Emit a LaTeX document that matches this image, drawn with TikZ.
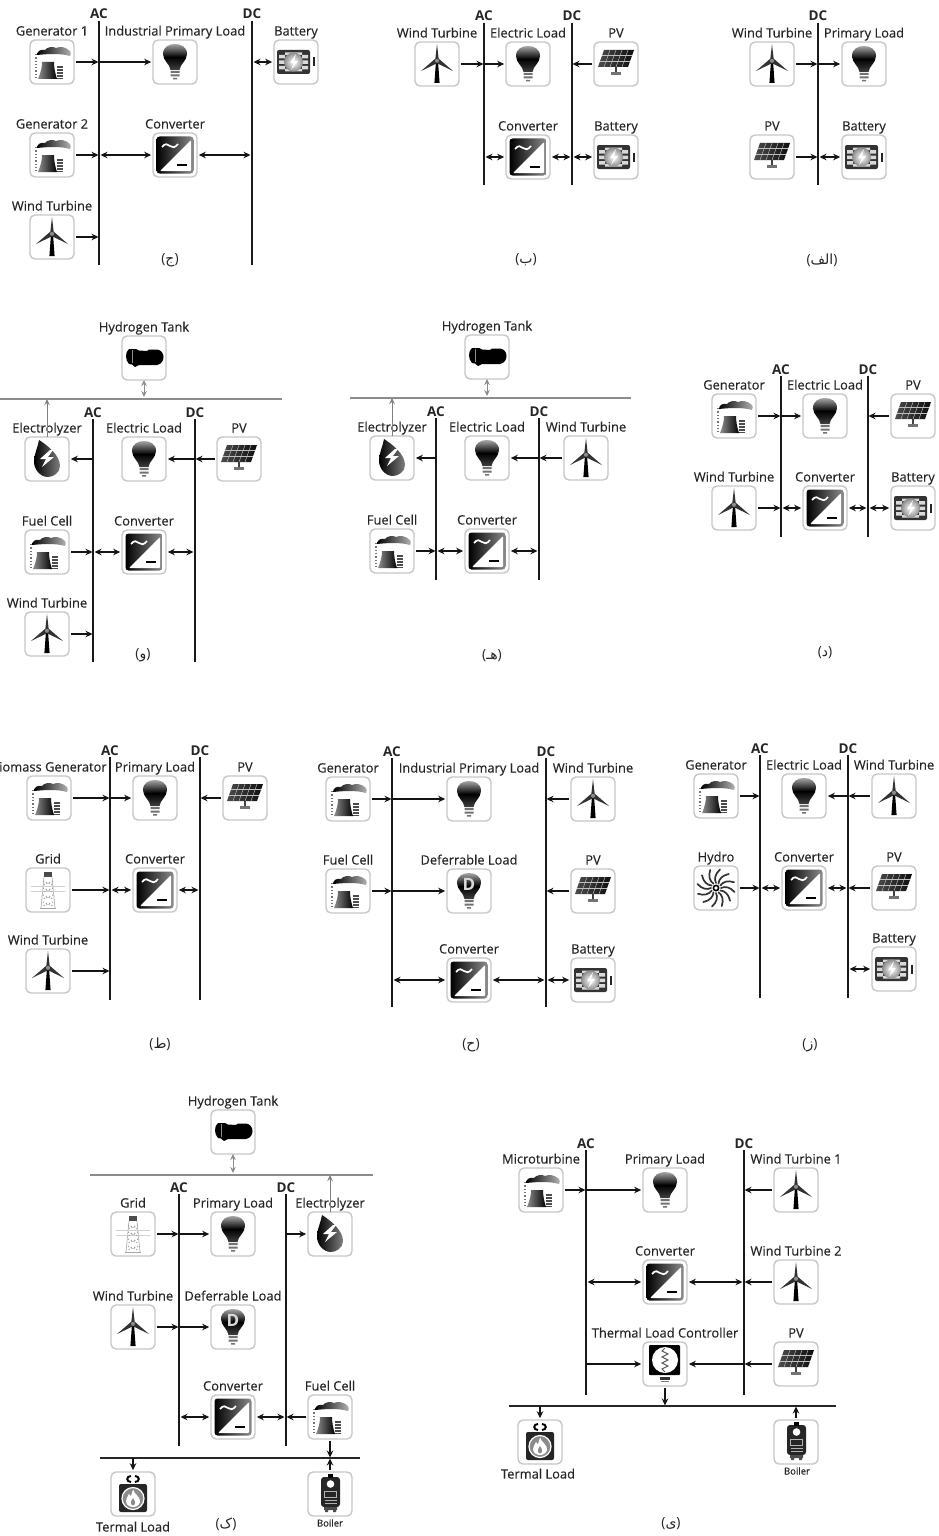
\documentclass[tikz,border=0pt]{standalone}
\usepackage{fontspec}
\setmainfont{Open Sans}
\newfontfamily\lblf[FakeBold=0.25]{Open Sans}
\newfontfamily\arabicfont[Script=Arabic]{DejaVu Sans}
\TeXXeTstate=1
\usetikzlibrary{arrows.meta}
\definecolor{ink}{HTML}{262626}
\newcommand{\bulbpath}{(-4.5,8) .. controls (-5,2) and (-12,-1) .. (-12,-8) .. controls (-12,-15) and (-6,-18) .. (0,-18) .. controls (6,-18) and (12,-15) .. (12,-8) .. controls (12,-1) and (5,2) .. (4.5,8) -- cycle}
\newcommand{\bulbbase}{\fill[black!55] (-4.5,9) rectangle (4.5,11) (-4.5,12.5) rectangle (4.5,14.5) (-2,16) rectangle (2,17.5);}
\tikzset{
  bx/.style={draw=black!22,line width=1.4pt,fill=white,rounded corners=5pt,minimum size=44pt,inner sep=0pt,outer sep=0pt},
  lbl/.style={font=\lblf\fontsize{12.9}{14}\selectfont,text=ink,inner sep=0pt,anchor=base},
  lblS/.style={font=\lblf\fontsize{9.5}{11}\selectfont,text=ink,inner sep=0pt,anchor=base},
  bl/.style={font=\fontsize{13.5}{15}\selectfont\bfseries,text=ink,inner sep=0pt,anchor=base},
  captxt/.style={font=\fontsize{14}{16}\selectfont,text=ink,inner sep=0pt},
  busv/.style={line width=2.2pt,draw=black!90},
  bush/.style={line width=2pt,draw=black!85},
  busg/.style={line width=2.2pt,draw=black!45},
  fl/.style={-{Stealth[length=7pt,width=6.5pt]},line width=1.2pt,draw=black!92,shorten >=.5pt,shorten <=1.8pt},
  fb/.style={-{Stealth[length=7pt,width=6.5pt]},line width=1.2pt,draw=black!92,shorten >=1.8pt,shorten <=0pt},
  bi/.style={{Stealth[length=7pt,width=6.5pt]}-{Stealth[length=7pt,width=6.5pt]},line width=1.2pt,draw=black!92,shorten >=1.8pt,shorten <=1.5pt},
  flg/.style={-{Stealth[length=6pt,width=5.5pt,open,fill=black!20]},line width=.9pt,draw=black!50,shorten >=0pt,shorten <=0pt},
  big/.style={{Stealth[length=6pt,width=5.5pt,fill=black!35]}-{Stealth[length=6pt,width=5.5pt,fill=black!35]},line width=.9pt,draw=black!45,shorten >=0pt,shorten <=2pt},
  ic gen/.pic={
    \shade[left color=black,right color=black!30] (-15,-7) .. controls (-15,-11) and (-11,-13) .. (-7,-12) .. controls (-5,-15) and (1,-16) .. (4,-14) .. controls (8,-16) and (14,-15) .. (18,-11) .. controls (19,-9) and (19,-8) .. (18,-6) .. controls (8,-9) and (-5,-8) .. cycle;
    \draw[black!55,line width=1.3pt,dotted] (-16,-8) -- (-16,17);
    \shade[left color=black!45,right color=black] (-14,17) .. controls (-11,10) and (-10,5) .. (-10,0) -- (2,0) .. controls (2,5) and (3,11) .. (5,17) -- cycle;
    \foreach \q in {5,8,11,14,16.5}{\draw[black!70,line width=1.4pt] (5,\q) -- (11,\q);}
  },
  ic bulb/.pic={
    \shade[top color=black!35,bottom color=black!75,middle color=black] \bulbpath;
    \bulbbase
  },
  ic def/.pic={
    \shade[top color=black!35,bottom color=black!75,middle color=black] \bulbpath;
    \node[text=white!85!black,inner sep=0pt,font=\fontsize{17}{17}\selectfont\bfseries] (dglyph) at (0,-7) {D};
    \bulbbase
  },
  ic conv/.pic={
    \shade[left color=black,right color=black!45,rounded corners=3pt] (-18.5,-18.5) rectangle (18.5,18.5);
    \fill[white,rounded corners=1pt] (16,-15) -- (16,16) -- (-15,16) -- cycle;
    \draw[white,line width=1.7pt] (-13,-8) .. controls (-10,-12) and (-7,-11) .. (-5,-9) .. controls (-3,-7) and (0,-7) .. (3,-11);
    \draw[black,line width=2pt] (2,10) -- (12,10);
  },
  ic batt/.pic={
    \fill[black!80,rounded corners=2pt] (-19,-12) rectangle (14,12);
    \foreach \q in {-7,-1.5,4}{\fill[white!85!black] (-17,\q) rectangle (-11,\q+3.5) (6,\q) rectangle (12,\q+3.5);}
    \fill[white!85!black] (-11,-9.5) rectangle (6,-7) (-11,7) rectangle (6,9.5);
    \shade[inner color=white,outer color=black!45] (-2.5,0) circle (9.5);
    \fill[white] (0,-8) -- (-6,1) -- (-2,1) -- (-5,8) -- (2,-1) -- (-2,-1) -- cycle;
    \draw[black!85,line width=1.6pt] (18,-4.5) -- (18,4.5);
  },
  ic wind/.pic={
    \fill[black] (-2.6,19) -- (-1,-3) -- (1,-3) -- (2.6,19) -- cycle;
    \fill[black!80] (-1.8,-4) -- (0,-20) -- (1.8,-4) -- cycle;
    \fill[black!80] (-1.5,-5.5) -- (-16,7) -- (.5,-1) -- cycle;
    \fill[black!80] (1.5,-5.5) -- (16,7) -- (-.5,-1) -- cycle;
    \fill[black!45] (0,-3.2) circle (2);
  },
  ic pv/.pic={
    \shade[left color=black!70,right color=black!95] (-12,-14) -- (18,-14) -- (12,3) -- (-18,3) -- cycle;
    \foreach \q in {-6,0,6,12}{\draw[black!25,line width=.45pt] (\q,-14) -- (\q-6,3);}
    \draw[black!25,line width=.45pt] (-14,-8.5) -- (16,-8.5) (-16,-2.5) -- (14,-2.5);
    \draw[black!75,line width=2pt] (0,3) -- (0,8);
    \fill[black!55] (-5,8) rectangle (5,11);
  },
  ic tank/.pic={
    \fill[black] (-15,-9) .. controls (-19,-6) and (-19,2) .. (-15,6) -- (-12,6.5) -- (-9,9) -- (-5,7) -- (13,7) .. controls (18,6) and (19.5,2) .. (19.5,-1) .. controls (19.5,-5) and (17,-8) .. (13,-8.5) -- (5,-8.5) -- (3,-7) -- (-5,-7.5) -- (-8,-9) -- cycle;
    \draw[black!45,line width=.5pt] (-12,-8) -- (-12,5);
  },
  ic elec/.pic={
    \shade[left color=black,right color=black!50] (-8,-19) .. controls (0,-14) and (13,-4) .. (13,7) .. controls (13,14) and (6,18) .. (1,18) .. controls (-7,18) and (-13,10) .. (-13,3) .. controls (-13,-5) and (-9,-12) .. cycle;
    \fill[white] (3,-9) -- (-7,0) -- (-1,0) -- (-5,8) -- (7,-2) -- (1,-2) -- (6,-9) -- cycle;
  },
  ic grid/.pic={
    \fill[black!70] (-4,-18) rectangle (4,-13);
    \draw[black!30,line width=.7pt] (-4,-13) -- (-7,18) (4,-13) -- (7,18);
    \draw[black!18,line width=.7pt] (-17,-4) -- (17,-4) (-17,1) -- (17,1);
    \foreach \q in {-9,-2,5,12}{\draw[black!40,line width=1pt,dotted] (-5,\q) -- (5,\q+4) (5,\q) -- (-5,\q+4);}
    \draw[black!35,line width=.7pt] (-8,18) -- (8,18);
  },
  ic hydro/.pic={
    \foreach \q in {0,30,...,330}{\draw[black!80,line width=1.7pt,line cap=round,rotate=\q] (5,0) .. controls (9,-2) and (14,-1) .. (18.5,4);}
    \draw[black,line width=1.6pt,fill=white] (0,0) circle (2.6);
  },
  ic tlc/.pic={
    \fill[black,rounded corners=1pt] (-16,-19) rectangle (15,11);
    \fill[white] (0,-4) circle (13);
    \draw[black!65,line width=1pt] (0,-16) -- (-3,-13) -- (3,-10) -- (-3,-7) -- (3,-4) -- (-3,-1) -- (3,2) -- (-3,5) -- (0,8);
    \fill[black!80] (-5,13) rectangle (5,15.5);
    \fill[black!50] (-4,16.5) rectangle (4,18);
  },
  ic tload/.pic={
    \draw[black,line width=2pt] (-2,-18) .. controls (-7,-18) and (-7,-12) .. (-2,-12);
    \draw[black,line width=2pt] (2,-18) .. controls (7,-18) and (7,-12) .. (2,-12);
    \fill[black!85,rounded corners=2pt] (-14,-10) rectangle (14,18);
    \fill[black!45] (0,4.5) circle (11);
    \draw[white,line width=1.2pt] (0,4.5) circle (11);
    \fill[white] (0,-4.5) .. controls (1,0) and (8,3) .. (7,8) .. controls (6,12) and (2,13) .. (0,13) .. controls (-3,13) and (-7,11) .. (-7,7) .. controls (-7,4) and (-5,3) .. (-4,0) .. controls (-3,2) and (-2,2) .. (-2,2) .. controls (-1,0) and (-1,-2) .. cycle;
    \fill[black!45] (0,4) .. controls (1,6) and (3,8) .. (2,10) .. controls (1,12) and (-1,12) .. (-2,10) .. controls (-3,8) and (-1,6) .. cycle;
  },
  ic boil/.pic={
    \fill[black!85,rounded corners=3pt] (-9,-17) rectangle (10,13);
    \fill[black!70] (-6,13) rectangle (7,16) (-5,16) rectangle (-2,18) (3,16) rectangle (6,18);
    \fill[black] (-2,-20) rectangle (3,-16);
    \fill[white] (.5,-10) circle (3.8);
    \draw[black!30,line width=.8pt] (-5.5,-3) rectangle (6.5,3) (-5.5,6) -- (6.5,6) (-5.5,9) -- (6.5,9);
  },
}
\newcommand{\bx}[5]{\node[bx] (#1) at (#2,#3) {}; \pic at (#1) {#4}; \node[lbl] (#1l) at (#2,#3-26.5) {#5};}
\newcommand{\bxn}[4]{\node[bx] (#1) at (#2,#3) {}; \pic at (#1) {#4};}
\newcommand{\vbus}[5]{\coordinate (#1) at (#2,#3); \coordinate (#1e) at (#2,#4); \draw[busv] (#1) -- (#1e); \node[bl] (#1l) at (#2,#3-2) {#5};}
\newcommand{\hbus}[5]{\coordinate (#1) at (#2,#4); \coordinate (#1e) at (#3,#4); \draw[#5] (#1) -- (#1e);}
\newcommand{\tobus}[2]{\draw[fl] (#1) -- (#1 -| #2);}
\newcommand{\frombus}[2]{\draw[fb] (#1 -| #2) -- (#1);}
\newcommand{\both}[2]{\draw[bi] (#1 -| #2) -- (#1);}
\newcommand{\cpt}[4]{\node[captxt] (#1) at (#2,#3+1) {(\hbox{\arabicfont\beginR #4\endR})};}
\begin{document}
\begin{tikzpicture}[x=1pt,y=-1pt]
\fill[white] (0,0) rectangle (938,1536);
\useasboundingbox (0,0) rectangle (938,1536);
% jim
\vbus{jA}{99}{21}{265}{AC}\vbus{jD}{252}{21}{265}{DC}
\bx{jg1}{52}{62}{ic gen}{Generator 1}\bx{jl}{175}{62}{ic bulb}{Industrial Primary Load}\bx{jb}{296}{62}{ic batt}{Battery}
\bx{jg2}{52}{155}{ic gen}{Generator 2}\bx{jc}{175}{155}{ic conv}{Converter}\bx{jw}{52}{237}{ic wind}{Wind Turbine}
\tobus{jg1}{jA}\frombus{jl}{jA}\both{jb}{jD}\tobus{jg2}{jA}\both{jc}{jA}\both{jc}{jD}\tobus{jw}{jA}
\cpt{jcap}{170}{259}{ج}
% be
\vbus{bA}{484}{23}{185}{AC}\vbus{bD}{572}{23}{185}{DC}
\bx{bw}{437}{64}{ic wind}{Wind Turbine}\bx{bl}{528}{64}{ic bulb}{Electric Load}\bx{bp}{616}{64}{ic pv}{PV}
\bx{bc}{528}{157}{ic conv}{Converter}\bx{bb}{616}{157}{ic batt}{Battery}
\tobus{bw}{bA}\frombus{bl}{bA}\tobus{bp}{bD}\both{bc}{bA}\both{bc}{bD}\both{bb}{bD}
\cpt{bcap}{526}{259}{ب}
% alef
\vbus{aD}{818}{23}{185}{DC}
\bx{aw}{772}{64}{ic wind}{Wind Turbine}\bx{al}{864}{64}{ic bulb}{Primary Load}\bx{ap}{772}{157}{ic pv}{PV}\bx{ab}{864}{157}{ic batt}{Battery}
\tobus{aw}{aD}\frombus{al}{aD}\tobus{ap}{aD}\both{ab}{aD}
\cpt{acap}{822}{259}{الف}
% vav
\hbus{vH}{0}{282}{399}{busg}
\vbus{vA}{93}{419}{662}{AC}\vbus{vD}{195}{419}{662}{DC}
\bx{vt}{144}{358}{ic tank}{Hydrogen Tank}
\bx{ve}{47}{459}{ic elec}{Electrolyzer}\bx{vl}{144}{459}{ic bulb}{Electric Load}\bx{vp}{239}{459}{ic pv}{PV}
\bx{vf}{47}{552}{ic gen}{Fuel Cell}\bx{vc}{144}{552}{ic conv}{Converter}\bx{vw}{47}{634}{ic wind}{Wind Turbine}
\draw[big] (vt |- vH) -- (vt);\draw[flg] (ve) -- (ve |- vH);
\frombus{ve}{vA}\frombus{vl}{vD}\tobus{vp}{vD}\tobus{vf}{vA}\both{vc}{vA}\both{vc}{vD}\tobus{vw}{vA}
\cpt{vcap}{143}{654}{و}
% he
\hbus{hH}{350}{631}{398}{busg}
\vbus{hA}{436}{418}{580}{AC}\vbus{hD}{539}{418}{580}{DC}
\bx{ht}{487}{357}{ic tank}{Hydrogen Tank}
\bx{he}{392}{458}{ic elec}{Electrolyzer}\bx{hl}{487}{458}{ic bulb}{Electric Load}\bx{hw}{586}{458}{ic wind}{Wind Turbine}
\bx{hf}{392}{551}{ic gen}{Fuel Cell}\bx{hc}{487}{551}{ic conv}{Converter}
\draw[big] (ht |- hH) -- (ht);\draw[flg] (he) -- (he |- hH);
\frombus{he}{hA}\frombus{hl}{hD}\tobus{hw}{hD}\tobus{hf}{hA}\both{hc}{hA}\both{hc}{hD}
\cpt{hcap}{492}{655}{هـ}
% dal
\vbus{dA}{781}{376}{537}{AC}\vbus{dD}{868}{376}{537}{DC}
\bx{dg}{734}{416}{ic gen}{Generator}\bx{dl}{825}{416}{ic bulb}{Electric Load}\bx{dp}{913}{416}{ic pv}{PV}
\bx{dw}{734}{508}{ic wind}{Wind Turbine}\bx{dc}{825}{508}{ic conv}{Converter}\bx{db}{913}{508}{ic batt}{Battery}
\tobus{dg}{dA}\frombus{dl}{dA}\tobus{dp}{dD}\tobus{dw}{dA}\both{dc}{dA}\both{dc}{dD}\both{db}{dD}
\cpt{dcap}{825}{652}{د}
% ta
\vbus{tA}{110}{757}{1000}{AC}\vbus{tD}{200}{757}{1000}{DC}
\bx{tg}{49}{798}{ic gen}{}\node[lbl,anchor=base west] (tgl) at (-1,771.5) {iomass Generator};
\bx{tl}{155}{798}{ic bulb}{Primary Load}\bx{tp}{245}{798}{ic pv}{PV}
\bx{tn}{48}{890}{ic grid}{Grid}\bx{tc}{155}{890}{ic conv}{Converter}\bx{tw}{48}{971}{ic wind}{Wind Turbine}
\tobus{tg}{tA}\frombus{tl}{tA}\tobus{tp}{tD}\tobus{tn}{tA}\both{tc}{tA}\both{tc}{tD}\tobus{tw}{tA}
\cpt{tcap}{160}{1043}{ط}
% he jimi
\vbus{xA}{392}{758}{1007}{AC}\vbus{xD}{546}{758}{1007}{DC}
\bx{xg}{348}{799}{ic gen}{Generator}\bx{xl}{469}{799}{ic bulb}{Industrial Primary Load}\bx{xw}{593}{799}{ic wind}{Wind Turbine}
\bx{xf}{348}{891}{ic gen}{Fuel Cell}\bx{xd}{469}{891}{ic def}{Deferrable Load}\bx{xp}{593}{891}{ic pv}{PV}
\bx{xc}{469}{980}{ic conv}{Converter}\bx{xb}{593}{980}{ic batt}{Battery}
\tobus{xg}{xA}\frombus{xl}{xA}\tobus{xw}{xD}\tobus{xf}{xA}\frombus{xd}{xA}\tobus{xp}{xD}\both{xc}{xA}\both{xc}{xD}\both{xb}{xD}
\cpt{xcap}{471}{1044}{ح}
% ze
\vbus{zA}{760}{755}{998}{AC}\vbus{zD}{848}{755}{998}{DC}
\bx{zg}{716}{796}{ic gen}{Generator}\bx{zl}{804}{796}{ic bulb}{Electric Load}\bx{zw}{894}{796}{ic wind}{Wind Turbine}
\bx{zh}{716}{888}{ic hydro}{Hydro}\bx{zc}{804}{888}{ic conv}{Converter}\bx{zp}{894}{888}{ic pv}{PV}
\bx{zb}{894}{969}{ic batt}{Battery}
\tobus{zg}{zA}\frombus{zl}{zD}\tobus{zw}{zD}\tobus{zh}{zA}\both{zc}{zA}\both{zc}{zD}\tobus{zp}{zD}\both{zb}{zD}
\cpt{zcap}{810}{1044}{ز}
% kaf
\hbus{kH}{90}{373}{1175}{busg}
\hbus{kT}{100}{360}{1458}{bush}
\vbus{kA}{179}{1194}{1446}{AC}\vbus{kD}{286}{1194}{1446}{DC}
\bx{kt}{233}{1132}{ic tank}{Hydrogen Tank}
\bx{kn}{133}{1234}{ic grid}{Grid}\bx{kl}{233}{1234}{ic bulb}{Primary Load}\bx{ke}{330}{1234}{ic elec}{Electrolyzer}
\bx{kw}{133}{1327}{ic wind}{Wind Turbine}\bx{kd}{233}{1327}{ic def}{Deferrable Load}
\bx{kc}{233}{1417}{ic conv}{Converter}\bx{kf}{330}{1417}{ic gen}{Fuel Cell}
\bxn{kq}{133}{1494}{ic tload}\node[lbl] (kql) at (133,1531.5) {Termal Load};
\bxn{kb}{330}{1494}{ic boil}\node[lblS] (kbl) at (330,1526.5) {Boiler};
\draw[big] (kt |- kH) -- (kt);\draw[flg] (ke) -- (ke |- kH);
\tobus{kn}{kA}\frombus{kl}{kA}\frombus{ke}{kD}\tobus{kw}{kA}\frombus{kd}{kA}\both{kc}{kA}\both{kc}{kD}\tobus{kf}{kD}
\draw[fl] (kf) -- (kf |- kT);\draw[fl] (kb) -- (kb |- kT);\draw[fb] (kq |- kT) -- (kq);
\cpt{kcap}{226}{1523}{ک}
% ye
\hbus{yT}{509}{836}{1406}{bush}
\vbus{yA}{586}{1150}{1395}{AC}\vbus{yD}{744}{1150}{1395}{DC}
\bx{ym}{541}{1190}{ic gen}{Microturbine}\bx{yl}{665}{1190}{ic bulb}{Primary Load}\bx{yw}{796}{1190}{ic wind}{Wind Turbine 1}
\bx{yc}{665}{1282}{ic conv}{Converter}\bx{yv}{796}{1282}{ic wind}{Wind Turbine 2}
\bx{ys}{665}{1364}{ic tlc}{Thermal Load Controller}\bx{yp}{796}{1364}{ic pv}{PV}
\bxn{yq}{540}{1442}{ic tload}\node[lbl] (yql) at (538,1478.5) {Termal Load};
\bxn{yb}{796}{1442}{ic boil}\node[lblS] (ybl) at (797,1474.5) {Boiler};
\tobus{ym}{yA}\frombus{yl}{yA}\tobus{yw}{yD}\both{yc}{yA}\both{yc}{yD}\tobus{yv}{yD}\frombus{ys}{yA}\frombus{ys}{yD}\tobus{yp}{yD}
\draw[fl] (ys) -- (ys |- yT);\draw[fb] (yq |- yT) -- (yq);\draw[fl] (yb) -- (yb |- yT);
\cpt{ycap}{671}{1523}{ی}
\end{tikzpicture}
\end{document}
